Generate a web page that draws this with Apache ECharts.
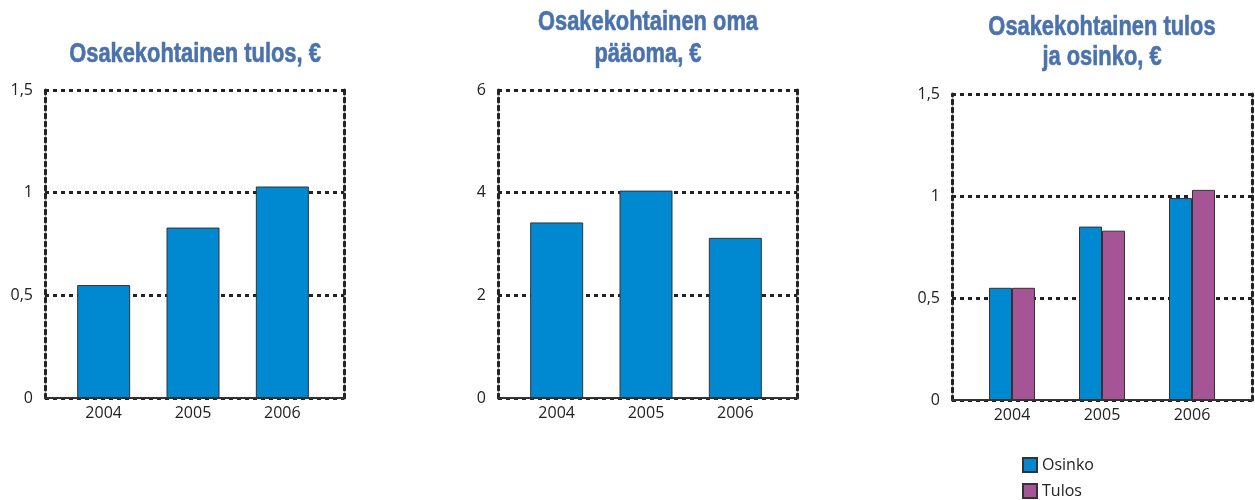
<!DOCTYPE html>
<html lang="fi">
<head>
<meta charset="UTF-8">
<title>Osakekohtaiset tunnusluvut</title>
<script src="https://cdn.jsdelivr.net/npm/echarts@6/dist/echarts.min.js"></script>
<style>
  html, body { margin: 0; padding: 0; background: #fff; }
  #main { width: 1255px; height: 500px; }
</style>
</head>
<body>
<div id="main"></div>
<script type="text/javascript">
// data
var years = ['2004', '2005', '2006'];
var tulos = [0.55, 0.83, 1.03];          // osakekohtainen tulos
var omaPaaoma = [3.42, 4.04, 3.12];      // osakekohtainen oma pääoma
var osinko = [0.55, 0.85, 0.99];         // osinko
var tulos2 = [0.55, 0.83, 1.03];         // tulos (oikea kuva)

var blue = '#0088d1';
var purple = '#a55495';
var dark = '#222';
var dash = [4, 4];
var labelFont = { color: '#222', fontSize: 16, fontFamily: 'Open Sans' };

var myChart = echarts.init(document.getElementById('main'));

function fmt(v) {
    return String(v).replace('.', ',');
}

function titleText(x, y, txt) {
    return {
        type: 'text', x: x, y: y, scaleX: 0.81,
        style: {
            text: txt, textAlign: 'center', textVerticalAlign: 'middle',
            fill: '#4a72ad', stroke: '#4a72ad', lineWidth: 0.6,
            fontSize: 27, fontWeight: 'bold',
            fontFamily: '"Liberation Sans", sans-serif'
        }
    };
}

// kehys: katkoviivat ja y-akselin luvut
function frameY(idx, max, interval) {
    return [{
        type: 'value', gridIndex: idx, min: 0, max: max, interval: interval,
        axisLine: { show: true, lineStyle: { color: dark, width: 3, type: dash } },
        axisTick: { show: false },
        axisLabel: Object.assign({ margin: 12, formatter: fmt }, labelFont),
        splitLine: { show: true, lineStyle: { color: dark, width: 3, type: dash } }
    }, {
        type: 'value', gridIndex: idx, min: 0, max: max, interval: interval, position: 'right',
        axisLine: { show: true, lineStyle: { color: dark, width: 3, type: dash } },
        axisTick: { show: false }, axisLabel: { show: false }, splitLine: { show: false }
    }];
}
function frameX(idx) {
    return {
        type: 'value', gridIndex: idx, min: 0, max: 1,
        axisLine: { show: true, onZero: false, lineStyle: { color: '#333', width: 2 } },
        axisTick: { show: false }, axisLabel: { show: false }, splitLine: { show: false }
    };
}
// pylväät omassa, kapeammassa ruudukossa
function barY(idx, max) {
    return {
        type: 'value', gridIndex: idx, min: 0, max: max, show: false
    };
}
function barX(idx) {
    return {
        type: 'category', gridIndex: idx, data: years,
        axisLine: { show: false }, axisTick: { show: false },
        axisLabel: Object.assign({ margin: 7 }, labelFont)
    };
}

var barStyle = function (c) {
    return { color: c, borderColor: '#333', borderWidth: 1 };
};

myChart.setOption({
    animation: false,
    grid: [
        { left: 45, top: 90, width: 299, height: 308 },
        { left: 59, top: 90, width: 268, height: 308 },
        { left: 498, top: 90, width: 299, height: 308 },
        { left: 512, top: 90, width: 268, height: 308 },
        { left: 952, top: 94, width: 300, height: 306 },
        { left: 967, top: 94, width: 270, height: 306 }
    ],
    xAxis: [frameX(0), barX(1), frameX(2), barX(3), frameX(4), barX(5)],
    yAxis: [].concat(
        frameY(0, 1.5, 0.5), [barY(1, 1.5)],
        frameY(2, 6, 2), [barY(3, 6)],
        frameY(4, 1.5, 0.5), [barY(5, 1.5)]
    ),
    legend: [{
        left: 1017, top: 452, itemWidth: 14, itemHeight: 14, icon: 'rect',
        data: ['Osinko'],
        textStyle: { color: '#222', fontSize: 16, fontFamily: 'Open Sans' }
    }, {
        left: 1017, top: 478, itemWidth: 14, itemHeight: 14, icon: 'rect',
        data: ['Tulos'],
        textStyle: { color: '#222', fontSize: 16, fontFamily: 'Open Sans' }
    }],
    graphic: [
        titleText(195, 55, 'Osakekohtainen tulos, €'),
        titleText(648, 23, 'Osakekohtainen oma'),
        titleText(648, 55, 'pääoma, €'),
        titleText(1102, 28, 'Osakekohtainen tulos'),
        titleText(1102, 58, 'ja osinko, €')
    ],
    series: [
        { name: 'tulos', type: 'bar', xAxisIndex: 1, yAxisIndex: 2, data: tulos,
          barWidth: 53, itemStyle: barStyle(blue) },
        { name: 'oma pääoma', type: 'bar', xAxisIndex: 3, yAxisIndex: 5, data: omaPaaoma,
          barWidth: 53, itemStyle: barStyle(blue) },
        { name: 'Osinko', type: 'bar', xAxisIndex: 5, yAxisIndex: 8, data: osinko,
          barWidth: 23, barGap: '0%', itemStyle: barStyle(blue) },
        { name: 'Tulos', type: 'bar', xAxisIndex: 5, yAxisIndex: 8, data: tulos2,
          barWidth: 23, barGap: '0%', itemStyle: barStyle(purple) }
    ]
});
</script>
</body>
</html>
